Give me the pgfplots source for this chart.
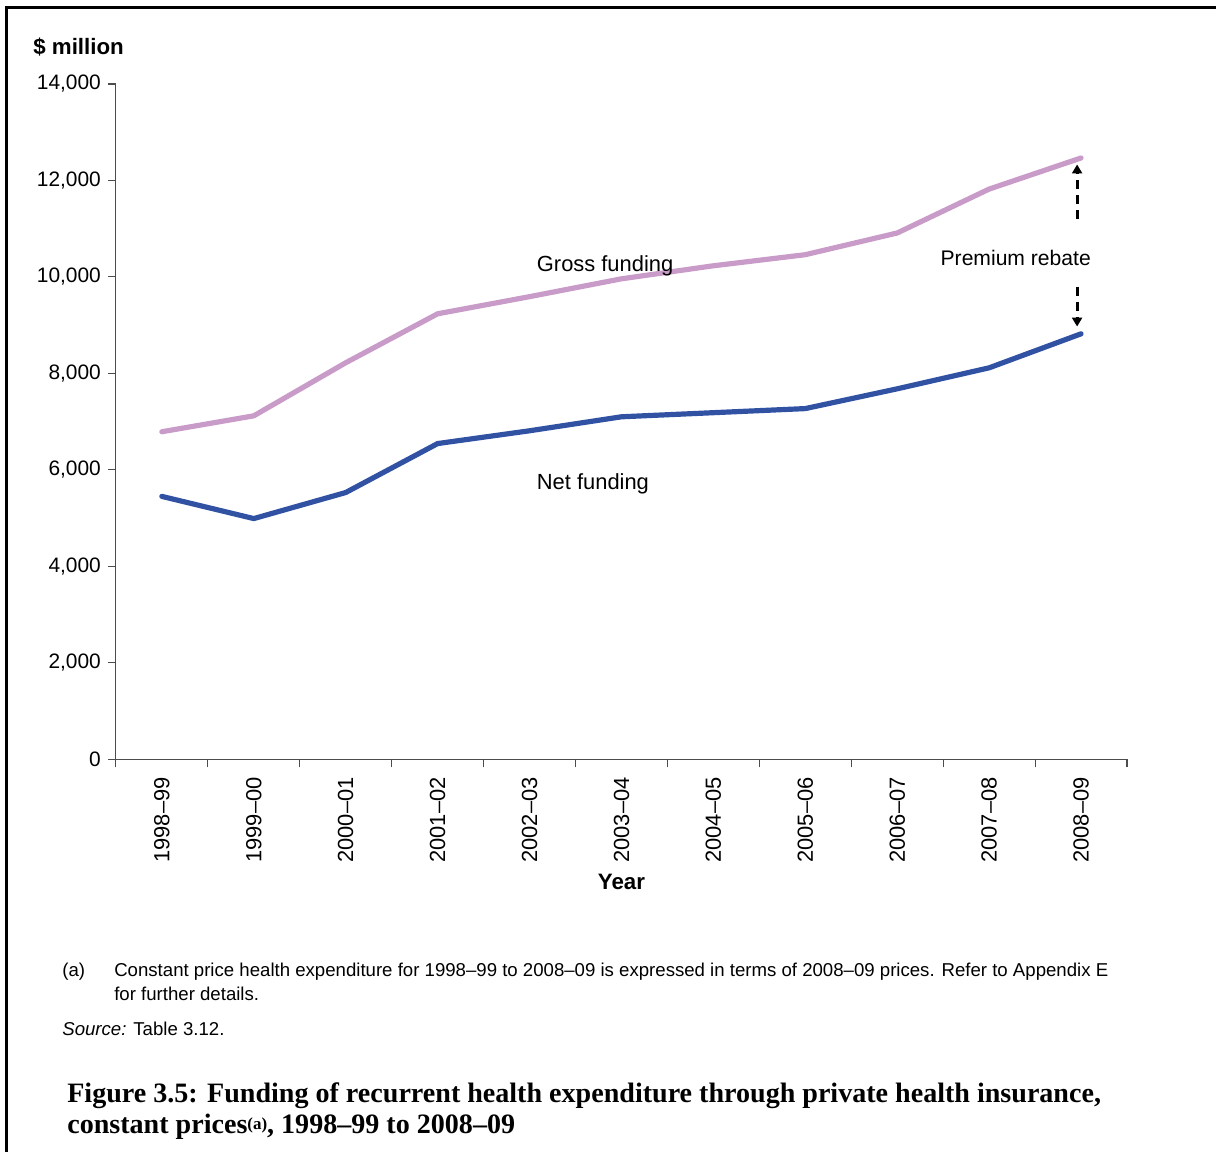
\documentclass[border=0pt]{standalone}
\usepackage{fontspec}
\setmainfont{Liberation Sans}
\newfontfamily\capfont[Ligatures=TeX]{Liberation Serif}
\usepackage{pgfplots}
\usepackage{pgfplotstable}
\pgfplotsset{compat=1.18}
\usetikzlibrary{arrows.meta}

\definecolor{grosscol}{RGB}{201,155,201}
\definecolor{netcol}{RGB}{49,82,163}

% $ million, constant prices
\pgfplotstableread{
idx gross net
0   6790  5450
1   7120  4990
2   8220  5530
3   9235  6545
4   9590  6810
5   9960  7100
6  10230  7185
7  10460  7270
8  10910  7680
9  11820  8115
10 12465  8820
}\fundtable

\newcommand{\px}{0.5bp}

\begin{document}
\begin{tikzpicture}
  \path (0,0) rectangle (1217*\px,-1153*\px);
  \draw[line width=1.1bp] (6.5*\px,-1153*\px) -- (6.5*\px,-7.5*\px) -- (1217*\px,-7.5*\px);

  \begin{axis}[
    at={(116*\px,-760*\px)}, anchor=south west,
    scale only axis, width=506bp, height=338bp,
    xmin=-0.5, xmax=10.5, ymin=0, ymax=14000,
    axis x line*=bottom, axis y line*=left,
    axis line style={draw=black!70, line width=0.6bp},
    tick align=outside,
    xtick={0,...,10},
    xticklabels={1998--99,1999--00,2000--01,2001--02,2002--03,2003--04,2004--05,2005--06,2006--07,2007--08,2008--09},
    minor xtick={-0.5,0.5,...,10.5},
    major x tick style={draw=none},
    minor x tick style={draw=black!70, line width=0.6bp},
    minor tick length=4bp,
    ytick={0,2000,...,14000},
    y tick style={draw=black!70, line width=0.6bp},
    major tick length=4bp,
    scaled y ticks=false,
    /pgf/number format/1000 sep={,},
    /pgf/number format/assume math mode=true,
    tick label style={font=\fontsize{10.5}{12}\selectfont},
    xticklabel style={rotate=90, anchor=east, font=\fontsize{11}{12}\selectfont, xshift=-1.5bp},
    clip=false,
  ]
    \addplot[grosscol, line width=2.6bp, line join=round, line cap=round]
      table[x=idx, y=gross] {\fundtable};
    \addplot[netcol, line width=2.6bp, line join=round, line cap=round]
      table[x=idx, y=net] {\fundtable};

    \node[anchor=west, inner sep=0, font=\fontsize{11}{13}\selectfont]
      at (axis cs:4.076,10230) {Gross funding};
    \node[anchor=west, inner sep=0, font=\fontsize{11}{13}\selectfont]
      at (axis cs:4.076,5715) {Net funding};
    \node[anchor=east, inner sep=0, font=\fontsize{10.6}{13}\selectfont]
      at (axis cs:10.11,10395) {Premium rebate};

    \draw[line width=1.4bp, dash pattern=on 4.5bp off 3bp, -{Triangle[length=4.5bp, width=5bp]}]
      (axis cs:9.957,11200) -- (axis cs:9.957,12330);
    \draw[line width=1.4bp, dash pattern=on 4.5bp off 3bp, -{Triangle[length=4.5bp, width=5bp]}]
      (axis cs:9.957,9800) -- (axis cs:9.957,8970);
  \end{axis}

  \node[anchor=west, inner sep=0, font=\bfseries\fontsize{11.2}{12}\selectfont]
    at (33*\px,-47*\px) {\$ million};
  \node[inner sep=0, font=\bfseries\fontsize{11.2}{13}\selectfont]
    at (622*\px,-883*\px) {Year};

  \begin{scope}[every node/.style={anchor=base west, inner sep=0, font=\fontsize{9.35}{12}\selectfont}]
    \node at (62*\px,-977*\px) {(a)};
    \node at (114*\px,-977*\px) {Constant price health expenditure for 1998--99 to 2008--09 is expressed in terms of 2008--09 prices. Refer to Appendix E};
    \node at (114*\px,-1001*\px) {for further details.};
    \node at (62*\px,-1036*\px) {\textit{Source:} Table 3.12.};
  \end{scope}

  \begin{scope}[every node/.style={anchor=base west, inner sep=0, font=\capfont\bfseries\fontsize{14.1}{16}\selectfont}]
    \node at (67*\px,-1103*\px) {Figure 3.5: Funding of recurrent health expenditure through private health insurance,};
    \node at (67*\px,-1135*\px) {constant prices{\fontsize{8.5}{9}\selectfont\raisebox{0.6ex}{(a)}}, 1998--99 to 2008--09};
  \end{scope}
\end{tikzpicture}
\end{document}
